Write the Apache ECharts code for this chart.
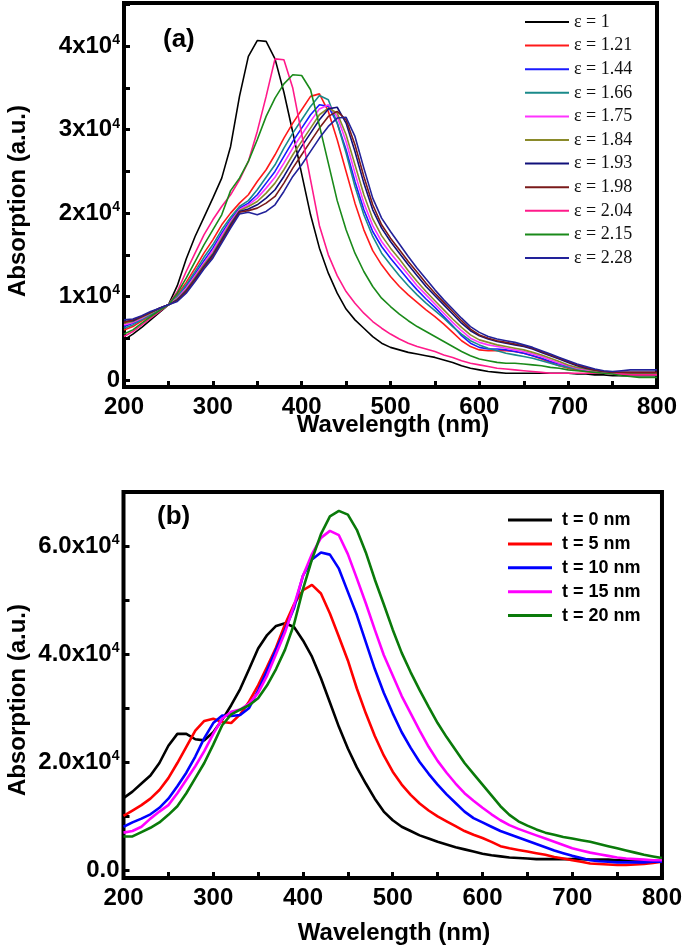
<!DOCTYPE html>
<html>
<head>
<meta charset="utf-8">
<script src="https://cdn.jsdelivr.net/npm/echarts@6/dist/echarts.min.js"></script>
<style>html,body{margin:0;padding:0;background:#fff}#c{width:685px;height:946px}</style>
</head>
<body>
<div id="c"></div>
<script>
// ---------- shared wavelength grid (nm) ----------
const wavelengths = [200,210,220,230,240,250,260,270,280,290,300,310,320,330,340,350,360,370,380,390,400,410,420,430,440,450,460,470,480,490,500,510,520,530,540,550,560,570,580,590,600,610,620,630,640,650,660,670,680,690,700,710,720,730,740,750,760,770,780,790,800];

// ---------- panel (a): absorption in units of 1e4 ----------
const namesA = ['ε = 1','ε = 1.21','ε = 1.44','ε = 1.66','ε = 1.75','ε = 1.84','ε = 1.93','ε = 1.98','ε = 2.04','ε = 2.15','ε = 2.28'];
const colorsA = ['#000000','#ff1a1a','#1a1aff','#1a8a8a','#ff33ff','#8a8a2a','#10107a','#7a1a1a','#ff1a8a','#1a8a1a','#22229a'];
const eps_1_00 = [0.48,0.55,0.63,0.72,0.81,0.90,1.13,1.45,1.72,1.95,2.18,2.42,2.80,3.40,3.88,4.07,4.06,3.85,3.45,2.97,2.47,1.98,1.58,1.28,1.04,0.85,0.72,0.62,0.52,0.44,0.39,0.36,0.33,0.31,0.29,0.27,0.24,0.21,0.17,0.14,0.12,0.10,0.09,0.08,0.08,0.08,0.08,0.08,0.08,0.08,0.08,0.07,0.07,0.06,0.06,0.05,0.05,0.05,0.05,0.05,0.05];
const eps_1_21 = [0.60,0.64,0.71,0.77,0.84,0.90,1.02,1.17,1.34,1.52,1.68,1.86,2.00,2.12,2.22,2.38,2.52,2.70,2.90,3.08,3.24,3.40,3.43,3.22,2.88,2.50,2.12,1.80,1.55,1.38,1.24,1.12,1.02,0.93,0.84,0.76,0.67,0.57,0.47,0.40,0.36,0.35,0.35,0.35,0.34,0.32,0.29,0.25,0.21,0.17,0.14,0.12,0.10,0.09,0.08,0.08,0.07,0.07,0.07,0.07,0.07];
const eps_1_44 = [0.64,0.68,0.73,0.79,0.85,0.90,0.99,1.12,1.27,1.43,1.58,1.76,1.92,2.06,2.12,2.22,2.36,2.50,2.68,2.86,3.02,3.18,3.30,3.28,3.08,2.76,2.38,2.04,1.78,1.60,1.46,1.33,1.20,1.08,0.97,0.87,0.76,0.65,0.53,0.44,0.39,0.37,0.37,0.36,0.34,0.32,0.29,0.26,0.22,0.19,0.16,0.14,0.12,0.10,0.09,0.08,0.08,0.08,0.08,0.08,0.08];
const eps_1_66 = [0.62,0.66,0.72,0.78,0.85,0.90,1.00,1.14,1.30,1.47,1.62,1.80,1.95,2.08,2.15,2.28,2.43,2.58,2.78,2.96,3.12,3.28,3.41,3.36,3.08,2.72,2.32,1.98,1.72,1.52,1.38,1.25,1.13,1.02,0.92,0.83,0.74,0.64,0.55,0.47,0.42,0.38,0.35,0.32,0.30,0.28,0.26,0.23,0.20,0.17,0.15,0.13,0.11,0.10,0.09,0.08,0.07,0.06,0.06,0.06,0.06];
const eps_1_75 = [0.66,0.69,0.74,0.80,0.86,0.90,0.98,1.10,1.25,1.40,1.55,1.73,1.90,2.04,2.10,2.18,2.30,2.43,2.60,2.78,2.94,3.10,3.25,3.30,3.16,2.86,2.48,2.12,1.85,1.66,1.52,1.39,1.26,1.13,1.02,0.91,0.80,0.69,0.59,0.50,0.45,0.42,0.40,0.38,0.36,0.34,0.31,0.28,0.24,0.20,0.17,0.14,0.12,0.10,0.09,0.08,0.08,0.08,0.08,0.08,0.08];
const eps_1_84 = [0.68,0.70,0.75,0.80,0.86,0.90,0.97,1.08,1.23,1.38,1.52,1.70,1.88,2.03,2.08,2.14,2.24,2.36,2.52,2.70,2.86,3.02,3.18,3.26,3.20,2.94,2.58,2.22,1.93,1.73,1.58,1.45,1.31,1.18,1.06,0.95,0.84,0.73,0.63,0.54,0.48,0.45,0.42,0.40,0.38,0.36,0.33,0.30,0.26,0.22,0.18,0.15,0.13,0.11,0.10,0.09,0.08,0.08,0.08,0.08,0.08];
const eps_1_93 = [0.70,0.71,0.76,0.81,0.86,0.90,0.96,1.07,1.21,1.36,1.50,1.68,1.86,2.02,2.05,2.10,2.18,2.28,2.44,2.62,2.80,2.96,3.12,3.25,3.27,3.08,2.74,2.36,2.04,1.82,1.66,1.52,1.38,1.25,1.12,1.01,0.90,0.79,0.68,0.59,0.53,0.49,0.46,0.44,0.42,0.40,0.37,0.33,0.29,0.25,0.21,0.17,0.14,0.12,0.10,0.09,0.09,0.09,0.09,0.09,0.09];
const eps_1_98 = [0.69,0.72,0.76,0.81,0.86,0.90,0.95,1.06,1.20,1.35,1.48,1.66,1.84,2.01,2.03,2.06,2.12,2.20,2.36,2.54,2.70,2.86,3.02,3.16,3.22,3.12,2.82,2.44,2.10,1.86,1.70,1.56,1.42,1.29,1.16,1.04,0.93,0.82,0.71,0.61,0.54,0.50,0.47,0.45,0.43,0.41,0.38,0.34,0.30,0.26,0.22,0.18,0.15,0.12,0.10,0.09,0.09,0.09,0.09,0.09,0.09];
const eps_2_04 = [0.52,0.58,0.66,0.74,0.82,0.90,1.06,1.30,1.52,1.74,1.92,2.08,2.22,2.40,2.62,2.98,3.40,3.85,3.84,3.50,2.95,2.40,1.85,1.50,1.25,1.06,0.92,0.80,0.70,0.62,0.55,0.49,0.44,0.40,0.37,0.34,0.30,0.27,0.23,0.20,0.18,0.16,0.14,0.13,0.12,0.11,0.10,0.09,0.08,0.08,0.08,0.08,0.08,0.08,0.08,0.07,0.07,0.06,0.06,0.06,0.06];
const eps_2_15 = [0.55,0.60,0.68,0.76,0.83,0.90,1.04,1.22,1.42,1.62,1.80,1.98,2.27,2.42,2.62,2.88,3.16,3.38,3.55,3.66,3.65,3.48,3.05,2.60,2.15,1.80,1.52,1.30,1.12,0.98,0.88,0.79,0.71,0.64,0.58,0.52,0.46,0.40,0.34,0.29,0.25,0.23,0.21,0.20,0.20,0.19,0.18,0.17,0.15,0.14,0.12,0.11,0.10,0.09,0.08,0.07,0.05,0.04,0.03,0.03,0.03];
const eps_2_28 = [0.72,0.73,0.77,0.82,0.86,0.90,0.94,1.04,1.18,1.33,1.46,1.64,1.82,1.99,2.01,1.98,2.02,2.10,2.26,2.44,2.58,2.74,2.90,3.04,3.14,3.15,2.92,2.54,2.18,1.94,1.78,1.63,1.48,1.34,1.21,1.08,0.96,0.85,0.74,0.64,0.57,0.52,0.49,0.47,0.45,0.42,0.39,0.35,0.31,0.27,0.23,0.19,0.16,0.13,0.11,0.10,0.11,0.12,0.12,0.12,0.12];
const valuesA = [eps_1_00,eps_1_21,eps_1_44,eps_1_66,eps_1_75,eps_1_84,eps_1_93,eps_1_98,eps_2_04,eps_2_15,eps_2_28];

// ---------- panel (b): absorption in units of 1e4 ----------
const namesB = ['t = 0 nm','t = 5 nm','t = 10 nm','t = 15 nm','t = 20 nm'];
const colorsB = ['#000000','#ff0000','#0000ff','#ff00ff','#0a7a0a'];
const t_0nm  = [1.33,1.45,1.60,1.75,1.98,2.30,2.52,2.52,2.42,2.40,2.55,2.78,3.05,3.35,3.72,4.10,4.35,4.52,4.57,4.50,4.25,3.95,3.55,3.10,2.65,2.25,1.90,1.60,1.32,1.08,0.92,0.80,0.72,0.64,0.58,0.52,0.47,0.42,0.38,0.34,0.30,0.27,0.25,0.23,0.22,0.21,0.20,0.20,0.20,0.20,0.20,0.20,0.19,0.19,0.19,0.18,0.18,0.18,0.17,0.17,0.17];
const t_5nm  = [1.00,1.10,1.20,1.32,1.48,1.70,1.98,2.28,2.58,2.76,2.80,2.74,2.72,2.88,3.12,3.42,3.76,4.12,4.55,4.92,5.18,5.28,5.12,4.75,4.32,3.88,3.36,2.90,2.48,2.12,1.82,1.58,1.39,1.23,1.10,0.99,0.90,0.81,0.72,0.65,0.59,0.52,0.44,0.40,0.37,0.34,0.31,0.28,0.24,0.21,0.18,0.15,0.12,0.11,0.10,0.09,0.09,0.10,0.11,0.13,0.15];
const t_10nm = [0.80,0.88,0.95,1.03,1.15,1.32,1.55,1.80,2.10,2.44,2.72,2.86,2.85,2.87,3.00,3.32,3.70,4.08,4.45,4.85,5.45,5.75,5.88,5.84,5.58,5.15,4.72,4.22,3.72,3.28,2.90,2.55,2.26,2.00,1.78,1.58,1.40,1.24,1.08,0.96,0.88,0.80,0.72,0.66,0.60,0.54,0.48,0.42,0.36,0.31,0.26,0.22,0.18,0.16,0.15,0.14,0.14,0.14,0.14,0.15,0.15];
const t_15nm = [0.69,0.72,0.80,0.95,1.08,1.20,1.42,1.67,1.92,2.20,2.52,2.80,2.93,2.97,3.08,3.28,3.60,4.00,4.40,4.90,5.45,5.85,6.15,6.28,6.20,5.85,5.40,4.94,4.45,3.98,3.60,3.22,2.90,2.58,2.28,2.02,1.80,1.60,1.42,1.28,1.15,1.03,0.92,0.83,0.76,0.70,0.64,0.58,0.52,0.46,0.40,0.36,0.32,0.29,0.26,0.23,0.21,0.20,0.19,0.18,0.18];
const t_20nm = [0.62,0.62,0.70,0.78,0.88,1.02,1.18,1.42,1.70,1.98,2.32,2.68,2.88,2.97,3.05,3.18,3.42,3.72,4.08,4.55,5.20,5.75,6.22,6.55,6.65,6.58,6.30,5.88,5.38,4.92,4.45,4.02,3.66,3.33,3.02,2.72,2.46,2.22,1.98,1.78,1.58,1.38,1.18,1.02,0.90,0.82,0.75,0.69,0.65,0.61,0.58,0.55,0.52,0.48,0.44,0.40,0.36,0.32,0.28,0.25,0.22];
const valuesB = [t_0nm,t_5nm,t_10nm,t_15nm,t_20nm];

// ---------- ticks ----------
const xLabelTicks = [200,300,400,500,600,700,800];
const xAllTicks = [200,250,300,350,400,450,500,550,600,650,700,750,800];
const yMajorA = [0,1,2,3,4];
const yLabelsA = ['0','1x10^4','2x10^4','3x10^4','4x10^4'];
const yAllA = [0,0.5,1,1.5,2,2.5,3,3.5,4,4.5];
const yMajorB = [0,2,4,6];
const yLabelsB = ['0.0','2.0x10^4','4.0x10^4','6.0x10^4'];
const yAllB = [0,1,2,3,4,5,6,7];

const SANS = '"Liberation Sans", Arial, Helvetica, sans-serif';
const SERIF = '"Liberation Serif", "Times New Roman", serif';

function supLabel(majors, labels) {
  return function (v) {
    const i = majors.findIndex(m => Math.abs(m - v) < 1e-9);
    if (i < 0) return '';
    const parts = labels[i].split('^');
    return parts.length > 1 ? '{b|' + parts[0] + '}{s|' + parts[1] + '}' : '{b|' + parts[0] + '}';
  };
}
const richY = {
  b: { fontFamily: SANS, fontWeight: 'bold', fontSize: 24, lineHeight: 26, color: '#000' },
  s: { fontFamily: SANS, fontWeight: 'bold', fontSize: 14, lineHeight: 14, verticalAlign: 'top', color: '#000' }
};
const tickStyle = { color: '#000', width: 3 };

// label-only axes
function xAxisCfg(gridIndex) {
  return {
    type: 'value', gridIndex, min: 200, max: 800, position: 'bottom',
    axisLine: { show: false, onZero: false },
    splitLine: { show: false },
    axisTick: { show: false },
    axisLabel: { customValues: xLabelTicks, margin: 8, color: '#000', fontFamily: SANS, fontWeight: 'bold', fontSize: 24 }
  };
}
function yAxisCfg(gridIndex, min, max, majors, labels) {
  return {
    type: 'value', gridIndex, min, max, position: 'left',
    axisLine: { show: false, onZero: false },
    splitLine: { show: false },
    axisTick: { show: false },
    axisLabel: { customValues: majors, margin: 4, formatter: supLabel(majors, labels), rich: richY }
  };
}
// tick-only axes
function xTickCfg(gridIndex) {
  return {
    type: 'value', gridIndex, min: 200, max: 800, position: 'bottom',
    axisLine: { show: false, onZero: false },
    splitLine: { show: false },
    axisTick: { show: true, inside: true, length: 6, customValues: xAllTicks, lineStyle: tickStyle },
    axisLabel: { show: false }
  };
}
function yTickCfg(gridIndex, min, max, all) {
  return {
    type: 'value', gridIndex, min, max, position: 'left',
    axisLine: { show: false, onZero: false },
    splitLine: { show: false },
    axisTick: { show: true, inside: true, length: 6, customValues: all, lineStyle: tickStyle },
    axisLabel: { show: false }
  };
}

const series = [];
valuesA.forEach((vals, k) => {
  series.push({
    name: namesA[k], type: 'line', xAxisIndex: 0, yAxisIndex: 0,
    data: wavelengths.map((w, i) => [w, vals[i]]),
    symbol: 'none', showSymbol: false, smooth: false,
    lineStyle: { width: 1.6, color: colorsA[k] }, itemStyle: { color: colorsA[k] }
  });
});
valuesB.forEach((vals, k) => {
  series.push({
    name: namesB[k], type: 'line', xAxisIndex: 1, yAxisIndex: 1,
    data: wavelengths.map((w, i) => [w, vals[i]]),
    symbol: 'none', showSymbol: false, smooth: false,
    lineStyle: { width: 2.6, color: colorsB[k] }, itemStyle: { color: colorsB[k] }
  });
});

const chart = echarts.init(document.getElementById('c'), null, { renderer: 'canvas' });
chart.setOption({
  animation: false,
  backgroundColor: '#fff',
  grid: [
    { left: 124, top: 3, width: 533, height: 384, show: true, borderColor: '#000', borderWidth: 4, backgroundColor: 'transparent' },
    { left: 123.5, top: 492, width: 540, height: 386, show: true, borderColor: '#000', borderWidth: 4, backgroundColor: 'transparent' }
  ],
  xAxis: [xAxisCfg(0), xAxisCfg(1), xTickCfg(0), xTickCfg(1)],
  yAxis: [
    yAxisCfg(0, -0.085, 4.52, yMajorA, yLabelsA),
    yAxisCfg(1, -0.15, 7.0, yMajorB, yLabelsB),
    yTickCfg(0, -0.085, 4.52, yAllA),
    yTickCfg(1, -0.15, 7.0, yAllB)
  ],
  legend: [
    { data: namesA, orient: 'vertical', left: 525, top: 12, padding: 0, itemWidth: 44, itemHeight: 2, itemGap: 3.6,
      icon: 'rect', selectedMode: false,
      textStyle: { fontFamily: SERIF, fontSize: 18, lineHeight: 20, color: '#111' } },
    { data: namesB, orient: 'vertical', left: 508, top: 510, padding: 0, itemWidth: 44, itemHeight: 3, itemGap: 3.9,
      icon: 'rect', selectedMode: false,
      textStyle: { fontFamily: SANS, fontWeight: 'bold', fontSize: 18, lineHeight: 20, color: '#000', padding: [0, 0, 0, 5] } }
  ],
  graphic: [
    { type: 'text', left: 163, top: 27, style: { text: '(a)', font: 'bold 26px ' + SANS, fill: '#000' } },
    { type: 'text', left: 157, top: 504, style: { text: '(b)', font: 'bold 26px ' + SANS, fill: '#000' } },
    { type: 'text', x: 393, y: 425, style: { text: 'Wavelength (nm)', font: 'bold 24px ' + SANS, fill: '#000', align: 'center', verticalAlign: 'middle' } },
    { type: 'text', x: 394, y: 933, style: { text: 'Wavelength (nm)', font: 'bold 24px ' + SANS, fill: '#000', align: 'center', verticalAlign: 'middle' } },
    { type: 'text', x: 18, y: 201, rotation: Math.PI / 2, style: { text: 'Absorption (a.u.)', font: 'bold 24px ' + SANS, fill: '#000', align: 'center', verticalAlign: 'middle' } },
    { type: 'text', x: 18, y: 700, rotation: Math.PI / 2, style: { text: 'Absorption (a.u.)', font: 'bold 24px ' + SANS, fill: '#000', align: 'center', verticalAlign: 'middle' } }
  ],
  series
});
</script>
</body>
</html>
